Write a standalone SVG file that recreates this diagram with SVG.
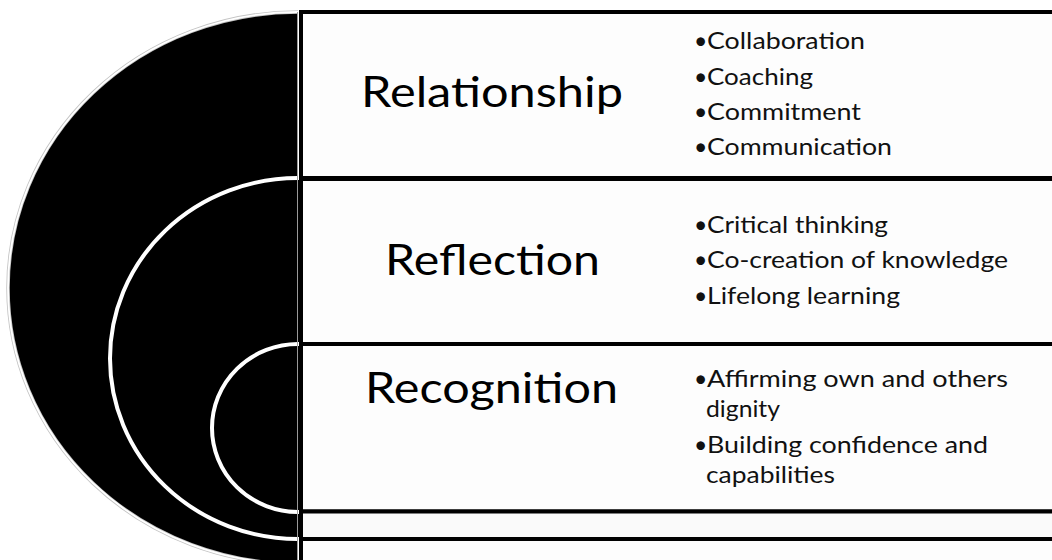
<svg xmlns="http://www.w3.org/2000/svg" width="1052" height="560" viewBox="0 0 1052 560">
  <style>
    .box { fill: #fdfdfd; stroke: #000; stroke-width: 4; }
    .title { font-family: Lato, "Liberation Sans", sans-serif; font-size: 42px; fill: #000; }
    .item { font-family: Lato, "Liberation Sans", sans-serif; font-size: 23px; fill: #111; }
    .ring { fill: #000; stroke: #fff; stroke-width: 4; }
  </style>
  <rect width="1052" height="560" fill="#fff"/>

  <g id="semicircles">
    <path d="M298,12 A290,276 0 0 0 298,564" fill="#000" stroke="#c4c4c4" stroke-width="3.5"/>
    <path d="M298,12 A290,276 0 0 0 298,564" fill="none" stroke="#fff" stroke-width="1.8"/>
    <path class="ring" d="M300,178 L298,178 A188,180.5 0 0 0 298,539 L300,539"/>
    <path class="ring" d="M300,344 L298,344 A86,84 0 0 0 298,512 L300,512"/>
    <line x1="297.5" y1="12" x2="297.5" y2="560" stroke="#9a9a9a" stroke-width="1"/>
  </g>

  <g id="connectors"></g>

  <g id="relationship">
    <rect class="box" x="301" y="12" width="760" height="166"/>
    <text class="title" x="361" y="107" textLength="262" lengthAdjust="spacingAndGlyphs">Relationship</text>
    <text class="item" y="49"><tspan x="694">•</tspan><tspan x="707" textLength="158" lengthAdjust="spacingAndGlyphs">Collaboration</tspan></text>
    <text class="item" y="85"><tspan x="694">•</tspan><tspan x="707" textLength="106" lengthAdjust="spacingAndGlyphs">Coaching</tspan></text>
    <text class="item" y="120"><tspan x="694">•</tspan><tspan x="707" textLength="154" lengthAdjust="spacingAndGlyphs">Commitment</tspan></text>
    <text class="item" y="155"><tspan x="694">•</tspan><tspan x="707" textLength="185" lengthAdjust="spacingAndGlyphs">Communication</tspan></text>
  </g>

  <g id="reflection">
    <rect class="box" x="301" y="179" width="760" height="165"/>
    <text class="title" x="385" y="275" textLength="215" lengthAdjust="spacingAndGlyphs">Reflection</text>
    <text class="item" y="233"><tspan x="694">•</tspan><tspan x="707" textLength="181" lengthAdjust="spacingAndGlyphs">Critical thinking</tspan></text>
    <text class="item" y="268"><tspan x="694">•</tspan><tspan x="707" textLength="301" lengthAdjust="spacingAndGlyphs">Co-creation of knowledge</tspan></text>
    <text class="item" y="304"><tspan x="694">•</tspan><tspan x="707" textLength="193" lengthAdjust="spacingAndGlyphs">Lifelong learning</tspan></text>
  </g>

  <g id="recognition">
    <rect class="box" x="301" y="344" width="760" height="167.5"/>
    <text class="title" x="365" y="403" textLength="253" lengthAdjust="spacingAndGlyphs">Recognition</text>
    <text class="item" y="387"><tspan x="694">•</tspan><tspan x="707" textLength="301" lengthAdjust="spacingAndGlyphs">Affirming own and others</tspan></text>
    <text class="item" x="706" y="417" textLength="74" lengthAdjust="spacingAndGlyphs">dignity</text>
    <text class="item" y="453"><tspan x="694">•</tspan><tspan x="707" textLength="281" lengthAdjust="spacingAndGlyphs">Building confidence and</tspan></text>
    <text class="item" x="706" y="483" textLength="129" lengthAdjust="spacingAndGlyphs">capabilities</text>
  </g>

  <g id="band">
    <rect class="box" x="301" y="511.5" width="760" height="27.5" style="fill:#fafafa"/>
  </g>

  <g id="base">
    <rect class="box" x="301" y="539" width="760" height="40"/>
  </g>
</svg>
